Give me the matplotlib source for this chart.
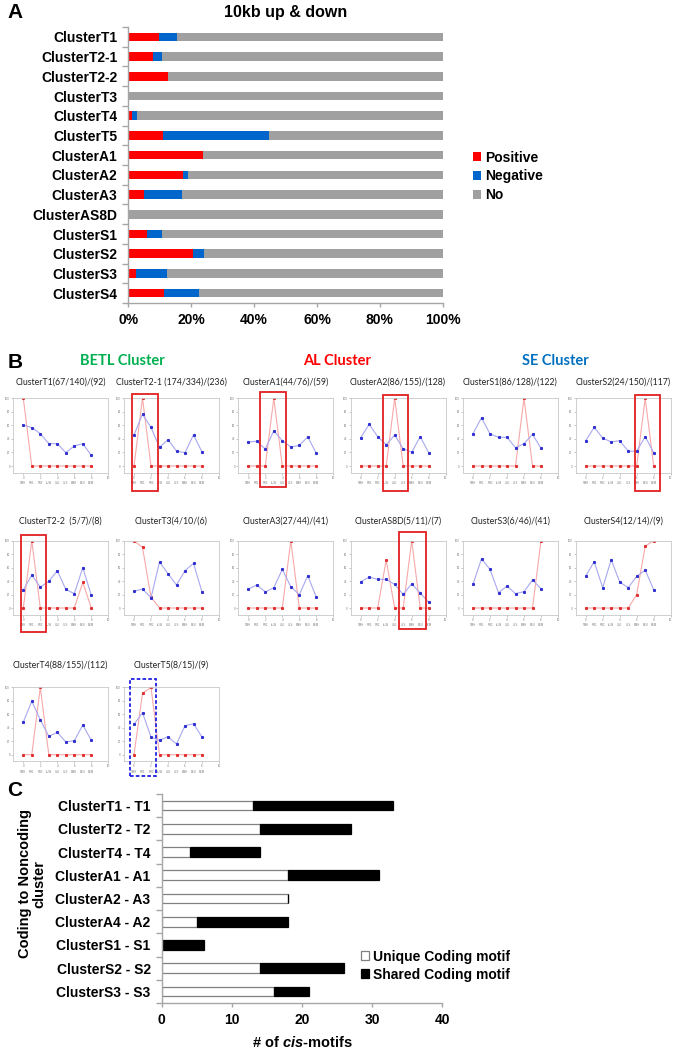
import matplotlib
matplotlib.use("Agg")
import matplotlib.pyplot as plt
from matplotlib.patches import Rectangle
from matplotlib.ticker import FixedLocator, FuncFormatter

plt.rcParams["font.family"] = ["Liberation Sans", "DejaVu Sans"]
plt.rcParams["mathtext.fontset"] = "custom"
plt.rcParams["mathtext.bfit"] = "Liberation Sans:bold:italic"

W, H = 675, 1049

# ── Panel A data (% of genes) ───────────────────────────────
A_CLUSTERS = ["ClusterT1", "ClusterT2-1", "ClusterT2-2", "ClusterT3", "ClusterT4",
              "ClusterT5", "ClusterA1", "ClusterA2", "ClusterA3", "ClusterAS8D",
              "ClusterS1", "ClusterS2", "ClusterS3", "ClusterS4"]
A_POSITIVE = [9.9, 8.0, 12.6, 0.0, 1.1, 11.1, 23.9, 17.4, 5.0, 0.0, 5.8, 20.7, 2.5, 11.2]
A_NEGATIVE = [5.5, 2.7, 0.0, 0.0, 1.7, 33.5, 0.0, 1.6, 12.2, 0.0, 5.0, 3.3, 9.8, 11.2]

# ── Panel B data ────────────────────────────────────────────
B_TITLES = ["ClusterT1(67/140)/(92)", "ClusterT2-1 (174/334)/(236)", "ClusterA1(44/76)/(59)",
            "ClusterA2(86/155)/(128)", "ClusterS1(86/128)/(122)", "ClusterS2(24/150)/(117)",
            "ClusterT2-2  (5/7)/(8)", "ClusterT3(4/10/(6)", "ClusterA3(27/44)/(41)",
            "ClusterAS8D(5/11)/(7)", "ClusterS3(6/46)/(41)", "ClusterS4(12/14)/(9)",
            "ClusterT4(88/155)/(112)", "ClusterT5(8/15)/(9)"]
B_STAGES = ["TMH", "PR1", "PR2", "LUW", "ULE", "ULS", "BMH", "BEU", "BEM"]
B_RED = [
    [100, 0, 0, 0, 0, 0, 0, 0, 0],
    [0, 100, 0, 0, 0, 0, 0, 0, 0],
    [0, 0, 0, 100, 0, 0, 0, 0, 0],
    [0, 0, 0, 0, 100, 0, 0, 0, 0],
    [0, 0, 0, 0, 0, 0, 100, 0, 0],
    [0, 0, 0, 0, 0, 0, 0, 100, 0],
    [0, 100, 0, 0, 0, 0, 0, 38, 0],
    [100, 90, 16, 0, 0, 0, 0, 0, 0],
    [0, 0, 0, 0, 0, 100, 0, 0, 0],
    [0, 0, 0, 71, 0, 0, 100, 0, 0],
    [0, 0, 0, 0, 0, 0, 0, 0, 100],
    [0, 0, 0, 0, 0, 0, 20, 92, 100],
    [0, 0, 100, 0, 0, 0, 0, 0, 0],
    [0, 91, 100, 0, 0, 0, 0, 0, 0],
]
B_BLUE = [
    [60.6, 56.7, 47.8, 33.0, 33.0, 19.7, 29.6, 33.0, 15.8],
    [45.8, 76.4, 57.0, 27.6, 39.0, 22.0, 19.7, 46.0, 20.7],
    [35.5, 36.5, 25.0, 52.0, 37.4, 28.0, 30.5, 43.0, 18.7],
    [41.9, 61.6, 43.3, 31.5, 45.8, 25.6, 20.2, 43.3, 19.7],
    [47.8, 71.4, 47.3, 42.4, 42.4, 27.0, 33.0, 46.8, 26.0],
    [37.4, 57.0, 41.4, 35.5, 37.4, 22.0, 22.0, 43.3, 19.7],
    [26.7, 49.0, 31.2, 39.6, 55.4, 27.7, 21.3, 60.0, 18.8],
    [24.8, 28.2, 15.3, 68.3, 51.0, 34.2, 55.4, 66.3, 23.8],
    [28.2, 34.2, 23.8, 30.2, 57.4, 31.7, 19.8, 48.0, 15.8],
    [39.0, 46.0, 42.6, 42.6, 35.0, 20.3, 36.0, 22.3, 8.4],
    [35.0, 73.3, 57.4, 22.8, 32.7, 21.3, 24.3, 41.6, 28.7],
    [47.5, 68.8, 30.2, 71.8, 38.6, 30.2, 47.0, 56.4, 27.2],
    [48.5, 79.2, 52.0, 27.2, 33.2, 18.8, 20.8, 44.0, 21.3],
    [45.0, 62.4, 26.2, 21.3, 26.7, 15.8, 43.0, 46.0, 26.2],
]

# ── Panel C data (# of cis-motifs) ──────────────────────────
C_PAIRS = ["ClusterT1 - T1", "ClusterT2 - T2", "ClusterT4 - T4", "ClusterA1 - A1",
           "ClusterA2 - A3", "ClusterA4 - A2", "ClusterS1 - S1", "ClusterS2 - S2",
           "ClusterS3 - S3"]
C_UNIQUE = [13, 14, 4, 18, 18, 5, 0, 14, 16]
C_SHARED = [20, 13, 10, 13, 0, 13, 6, 12, 5]

RED, BLUE, GREY = "#ff0000", "#0066cc", "#a0a0a0"
SPINE = "#a6a6a6"

fig = plt.figure(figsize=(W / 100, H / 100), dpi=100)
fig.patch.set_facecolor("white")


def px_axes(l, t, r, b):
    return fig.add_axes([l / W, 1 - b / H, (r - l) / W, (b - t) / H])


def fig_text(x, y, s, **kw):
    fig.text(x / W, 1 - y / H, s, **kw)


def fig_rect(l, t, r, b, **kw):
    fig.add_artist(Rectangle((l / W, 1 - b / H), (r - l) / W, (b - t) / H,
                             transform=fig.transFigure, fill=False, **kw))


def cat_axis(ax, n):
    ax.set_ylim(n - 0.5, -0.5)
    ax.yaxis.set_major_locator(FixedLocator(range(n)))
    ax.yaxis.set_minor_locator(FixedLocator([i - 0.5 for i in range(n + 1)]))
    ax.tick_params(axis="y", which="major", length=0, pad=8)
    ax.tick_params(axis="y", which="minor", length=4, color=SPINE, width=1)
    ax.tick_params(axis="x", length=3, color=SPINE, width=1, pad=4)
    for s in ["top", "right"]:
        ax.spines[s].set_visible(False)
    for s in ["left", "bottom"]:
        ax.spines[s].set_color(SPINE)
        ax.spines[s].set_linewidth(1)
    for lab in ax.get_yticklabels() + ax.get_xticklabels():
        lab.set_fontweight("bold")
        lab.set_fontsize(10)


# ══════════════════════════════════════════════════════════════
# A.  stacked 100% bars
# ══════════════════════════════════════════════════════════════
axA = px_axes(128.3, 27, 442.7, 303)
ya = range(len(A_CLUSTERS))
no = [100 - p - n for p, n in zip(A_POSITIVE, A_NEGATIVE)]
neg_left = A_POSITIVE
no_left = [p + n for p, n in zip(A_POSITIVE, A_NEGATIVE)]
axA.barh(ya, A_POSITIVE, height=0.44, color=RED, label="Positive")
axA.barh(ya, A_NEGATIVE, left=neg_left, height=0.44, color=BLUE, label="Negative")
axA.barh(ya, no, left=no_left, height=0.44, color=GREY, label="No")
axA.set_xlim(0, 100)
axA.set_xticks([0, 20, 40, 60, 80, 100])
axA.xaxis.set_major_formatter(FuncFormatter(lambda v, _: f"{v:.0f}%"))
axA.set_yticklabels(A_CLUSTERS)
cat_axis(axA, len(A_CLUSTERS))
axA.legend(loc="upper left", bbox_to_anchor=(460 / W, 1 - 138 / H),
           bbox_transform=fig.transFigure, frameon=False, handlelength=0.6,
           handleheight=0.6, handletextpad=0.3, labelspacing=0.35,
           prop={"weight": "bold", "size": 10})
fig_text(7, 12, "A", fontsize=15, fontweight="bold", va="center")
fig_text(286, 12, "10kb up & down", fontsize=11.5, fontweight="bold",
         ha="center", va="center")

# ══════════════════════════════════════════════════════════════
# B.  expression profiles
# ══════════════════════════════════════════════════════════════
col_x0 = [23.3, 134, 248.3, 360.7, 473, 585.7]   # pixel of x=0
row_y = [(398.3, 466), (540.7, 608), (687.3, 754.7)]  # pixel of y=100, y=0
title_y = [382, 521, 665]
unit = 8.5

for i, title in enumerate(B_TITLES):
    r, c = divmod(i, 6)
    x0 = col_x0[c]
    y100, y0 = row_y[r]
    sc = (y0 - y100) / 100
    ax = px_axes(x0 - 1.2 * unit, y100, x0 + 10 * unit, y0 + 10 * sc)
    xs = range(len(B_STAGES))
    ax.plot(xs, B_RED[i], color="#f7a8a8", lw=0.8, marker="s", ms=1.2,
            mfc="#e03030", mec="#e03030")
    ax.plot(xs, B_BLUE[i], color="#a8a8f0", lw=0.8, marker="s", ms=1.2,
            mfc="#3030d0", mec="#3030d0")
    ax.set_xlim(-1.2, 10)
    ax.set_ylim(-10, 100)
    ax.set_xticks([0, 2, 4, 6, 8, 10])
    ax.set_yticks([0, 20, 40, 60, 80, 100])
    ax.tick_params(labelsize=2, length=1.2, width=0.4, color="#999999",
                   labelcolor="#777777", pad=1)
    for s in ax.spines.values():
        s.set_color("#c8c8c8")
        s.set_linewidth(0.6)
    for k, st in enumerate(B_STAGES):
        ax.text(k, -0.11, st, transform=ax.get_xaxis_transform(), fontsize=2,
                ha="center", va="top", color="#777777")
    fig_text((x0 - 1.2 * unit + x0 + 10 * unit) / 2, title_y[r], title,
             family=["Lato", "DejaVu Sans"], fontsize=6.3, ha="center",
             va="center", color="#222222")

fig_text(8, 362, "B", fontsize=15, fontweight="bold", va="center")
for x, s, col in [(122, "BETL Cluster", "#00b050"), (337, "AL Cluster", RED),
                  (555, "SE Cluster", "#0070c0")]:
    fig_text(x, 361, s, family=["Lato", "DejaVu Sans"], fontsize=10.5,
             fontweight="bold", color=col, ha="center", va="center")

# highlighted stages
for l, t, r, b in [(132.3, 394, 157.7, 491), (260, 392, 285.7, 487),
                   (382.7, 395, 408.3, 491), (635.3, 395, 660.3, 491),
                   (20.7, 535, 46, 632), (399.3, 532, 425.7, 629)]:
    fig_rect(l, t, r, b, edgecolor="#e02020", lw=1.3)
fig_rect(130, 679, 155.7, 776, edgecolor="#2020e0", lw=1.3, ls=(0, (2, 1.2)))

# ══════════════════════════════════════════════════════════════
# C.  cis-motifs
# ══════════════════════════════════════════════════════════════
axC = px_axes(161.7, 794, 442.3, 1003)
yc = range(len(C_PAIRS))
axC.barh(yc, C_UNIQUE, height=0.42, color="white", edgecolor="#808080",
         lw=0.9, label="Unique Coding motif")
axC.barh(yc, C_SHARED, left=C_UNIQUE, height=0.42, color="black",
         edgecolor="black", lw=0.9, label="Shared Coding motif")
axC.set_xlim(0, 40)
axC.set_xticks([0, 10, 20, 30, 40])
axC.set_yticklabels(C_PAIRS)
cat_axis(axC, len(C_PAIRS))
axC.set_xlabel(r"# of $\mathbfit{cis}$-motifs", fontsize=10.5,
               fontweight="bold", labelpad=6)
axC.legend(loc="upper left", bbox_to_anchor=(348 / W, 1 - 937 / H),
           bbox_transform=fig.transFigure, frameon=False, handlelength=0.6,
           handleheight=0.6, handletextpad=0.3, labelspacing=0.3,
           prop={"weight": "bold", "size": 10})
fig_text(32, 884, "Coding to Noncoding\ncluster", fontsize=10.5,
         fontweight="bold", rotation=90, ha="center", va="center",
         linespacing=1.0)
fig_text(7, 791, "C", fontsize=15, fontweight="bold", va="center")

fig.savefig("out.png", dpi=100, facecolor="white")
